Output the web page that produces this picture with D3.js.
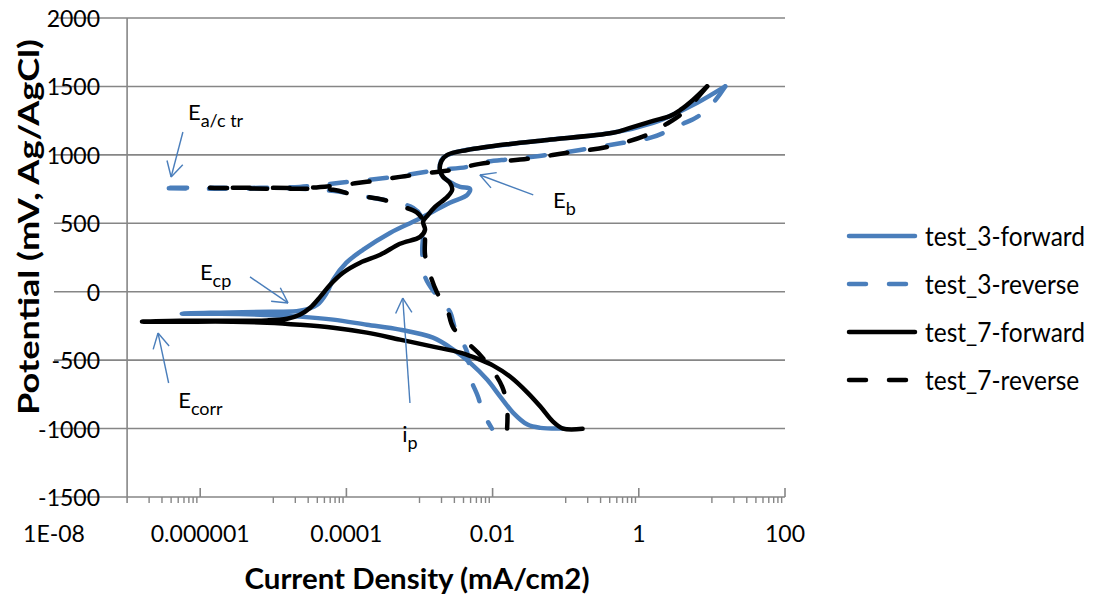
<!DOCTYPE html>
<html>
<head>
<meta charset="utf-8">
<script src="https://cdn.jsdelivr.net/npm/d3@7/dist/d3.min.js"></script>
<style>
  html, body { margin: 0; padding: 0; background: #fff; }
  svg { display: block; font-family: Lato, "Noto Sans", sans-serif; }
</style>
</head>
<body>
<svg id="chart" width="1094" height="595"></svg>
<script>
// Potentiodynamic polarisation scans: [potential mV, current density mA/cm2]
const test3Forward = [
  [-1000, 0.092], [-995, 0.045], [-971, 0.030], [-883, 0.019], [-766, 0.0127],
  [-642, 0.0084], [-518, 0.0049], [-423, 0.0029], [-336, 0.00153], [-277, 5.4e-4],
  [-241, 1.9e-4], [-204, 6.6e-5], [-182, 2.3e-5], [-168, 6.6e-6], [-161, 1.9e-6],
  [-160, 5.6e-7], [-153, 1.9e-6], [-146, 9.1e-6], [-139, 2.3e-5], [-95, 4.0e-5],
  [-7, 5.4e-5], [88, 6.6e-5], [212, 1.0e-4], [307, 1.7e-4], [431, 4.0e-4],
  [526, 9.3e-4], [650, 2.6e-3], [708, 4.5e-3], [752, 4.9e-3], [766, 3.6e-3],
  [803, 2.6e-3], [854, 2.0e-3], [927, 1.9e-3], [978, 2.1e-3], [1015, 2.9e-3],
  [1051, 6.8e-3], [1109, 0.056], [1161, 0.44], [1234, 1.57], [1292, 2.9],
  [1380, 6.3], [1500, 15.2]
];
const test3Reverse = [
  [1500, 15.2], [1380, 10.4], [1277, 6.3], [1219, 3.7], [1131, 1.57],
  [1088, 0.61], [1036, 0.157], [1000, 0.056], [971, 0.019], [942, 6.7e-3],
  [912, 4.5e-3], [891, 1.9e-3], [869, 1.02e-3], [839, 4.4e-4], [796, 8.2e-5],
  [766, 2.3e-5], [759, 6.6e-6], [759, 1.36e-6], [759, 2.65e-7], [752, 1.36e-6],
  [752, 2.3e-5], [730, 8.2e-5], [693, 1.9e-4], [657, 4.4e-4], [613, 8.2e-4],
  [562, 1.02e-3], [431, 1.12e-3], [307, 1.09e-3], [109, 1.19e-3], [-58, 1.9e-3],
  [-146, 2.6e-3], [-277, 3.1e-3], [-445, 4.5e-3], [-620, 4.9e-3], [-766, 6.3e-3],
  [-883, 7.4e-3], [-1000, 9.8e-3]
];
const test7Forward = [
  [-1002, 0.17], [-1000, 0.092], [-949, 0.067], [-839, 0.045], [-737, 0.030],
  [-620, 0.0173], [-540, 0.0102], [-496, 6.7e-3], [-445, 3.6e-3], [-401, 1.53e-3],
  [-350, 5.4e-4], [-299, 1.9e-4], [-263, 6.6e-5], [-241, 2.3e-5], [-226, 8.2e-6],
  [-219, 2.8e-6], [-219, 5.3e-7], [-219, 1.6e-7], [-212, 5.3e-7], [-212, 2.8e-6],
  [-210, 8.2e-6], [-197, 1.55e-5], [-168, 2.3e-5], [-117, 3.2e-5], [-36, 4.4e-5],
  [51, 6.0e-5], [139, 9.0e-5], [212, 1.54e-4], [270, 2.9e-4], [350, 5.4e-4],
  [401, 1.02e-3], [453, 1.19e-3], [511, 1.12e-3], [562, 1.31e-3], [620, 1.63e-3],
  [693, 2.4e-3], [745, 2.8e-3], [796, 2.6e-3], [839, 2.1e-3], [891, 1.9e-3],
  [956, 2.0e-3], [1000, 2.4e-3], [1036, 4.5e-3], [1080, 0.0173], [1109, 0.056],
  [1161, 0.44], [1197, 0.76], [1248, 1.57], [1285, 2.7], [1328, 3.7],
  [1401, 5.5], [1500, 8.6]
];
const test7Reverse = [
  [1500, 8.6], [1380, 5.5], [1292, 3.7], [1226, 2.4], [1146, 1.3],
  [1058, 0.37], [1015, 0.104], [971, 0.030], [934, 6.7e-3], [891, 2.9e-3],
  [869, 1.4e-3], [839, 5.4e-4], [803, 1.9e-4], [774, 6.6e-5], [759, 2.9e-5],
  [759, 8.2e-6], [760, 1.36e-6], [752, 8.2e-6], [745, 6.6e-5], [708, 1.24e-4],
  [672, 3.2e-4], [628, 5.4e-4], [577, 9.3e-4], [489, 1.19e-3], [380, 1.19e-3],
  [270, 1.19e-3], [124, 1.4e-3], [-7, 1.74e-3], [-131, 2.4e-3], [-263, 2.9e-3],
  [-460, 6.7e-3], [-569, 9.8e-3], [-693, 0.0135], [-839, 0.0158], [-1000, 0.0158]
];

const seriesNames = ["test_3-forward", "test_3-reverse", "test_7-forward", "test_7-reverse"];
const seriesColors = ["#4a7ebb", "#4a7ebb", "#000000", "#000000"];
const seriesDashed = [false, true, false, true];

const yTicks = [-1500, -1000, -500, 0, 500, 1000, 1500, 2000];
const xTickValues = [1e-8, 1e-6, 1e-4, 1e-2, 1, 100];
const xTickLabels = ["1E-08", "0.000001", "0.0001", "0.01", "1", "100"];

// Labelled features: text anchor and arrow tail/head as [current, potential]
const notes = [
  { main: "E", sub: "a/c tr", at: [6.8e-7, 1255], from: [5.8e-7, 1167], to: [4.0e-7, 838] },
  { main: "E", sub: "b",      at: [0.067, 612],   from: [0.036, 707],   to: [6.7e-3, 853] },
  { main: "E", sub: "cp",     at: [9.9e-7, 86],   from: [4.8e-6, 108],  to: [1.59e-5, -82] },
  { main: "E", sub: "corr",   at: [5.0e-7, -850], from: [3.7e-7, -667], to: [2.65e-7, -302] },
  { main: "i", sub: "p",      at: [5.8e-4, -1098],from: [7.4e-4, -813], to: [5.9e-4, -46] }
];

const svg = d3.select("#chart");
const x = d3.scaleLog().domain([1e-8, 100]).range([54, 785]);
const y = d3.scaleLinear().domain([-1500, 2000]).range([497, 18]);
const gridColor = "#868686";

// stretch a text element horizontally to a given width
function fitWidth(sel, width) {
  sel.attr("textLength", width).attr("lengthAdjust", "spacingAndGlyphs");
}

// horizontal gridlines (the lowest one doubles as the category axis)
svg.append("g").selectAll("line").data(yTicks).join("line")
  .attr("x1", x(1e-8)).attr("x2", x(100))
  .attr("y1", d => y(d)).attr("y2", d => y(d))
  .attr("stroke", gridColor).attr("stroke-width", 1.6);

// value axis, crossing at 1E-07
svg.append("line")
  .attr("x1", x(1e-7)).attr("x2", x(1e-7))
  .attr("y1", y(2000)).attr("y2", y(-1500) + 6)
  .attr("stroke", gridColor).attr("stroke-width", 1.6);

// major ticks (every two decades) point up, minor ticks point down
const majorTicks = xTickValues.slice(1);
svg.append("g").selectAll("line").data(majorTicks).join("line")
  .attr("x1", d => x(d)).attr("x2", d => x(d))
  .attr("y1", y(-1500) - 9).attr("y2", y(-1500))
  .attr("stroke", gridColor).attr("stroke-width", 1.6);

const minorTicks = [];
[-7, -5, -3, -1, 1].forEach(e => {
  for (let k = 2; k <= 9; k++) minorTicks.push(k * Math.pow(10, e));
});
[1e-5, 1e-3, 1e-1, 10].forEach(v => minorTicks.push(v));
svg.append("g").selectAll("line").data(minorTicks).join("line")
  .attr("x1", d => x(d)).attr("x2", d => x(d))
  .attr("y1", y(-1500)).attr("y2", y(-1500) + 6)
  .attr("stroke", gridColor).attr("stroke-width", 1.4);

// tick labels
svg.append("g").selectAll("text").data(yTicks).join("text")
  .attr("x", 100).attr("y", d => y(d))
  .attr("text-anchor", "end").attr("dominant-baseline", "central")
  .attr("font-size", 23).attr("fill", "#000")
  .text(d => d);

svg.append("g").selectAll("text").data(xTickValues).join("text")
  .attr("x", d => x(d)).attr("y", 533)
  .attr("text-anchor", "middle").attr("dominant-baseline", "central")
  .attr("font-size", 23).attr("fill", "#000")
  .text((d, i) => xTickLabels[i]);

// axis titles
const yTitle = svg.append("text")
  .attr("transform", `translate(27,415) rotate(-90)`)
  .attr("text-anchor", "start").attr("dominant-baseline", "central")
  .attr("font-size", 29).attr("font-weight", "bold")
  .text("Potential (mV, Ag/AgCl)");
fitWidth(yTitle, 376);

const xTitle = svg.append("text")
  .attr("x", 417).attr("y", 577)
  .attr("text-anchor", "middle").attr("dominant-baseline", "central")
  .attr("font-size", 29).attr("font-weight", "bold")
  .text("Current Density (mA/cm2)");
fitWidth(xTitle, 345);

// scan curves
const line = d3.line()
  .curve(d3.curveCatmullRom.alpha(0.5))
  .x(d => x(d[1])).y(d => y(d[0]));
const allSeries = [test3Forward, test3Reverse, test7Forward, test7Reverse];
const curves = svg.append("g").attr("fill", "none")
  .attr("stroke-linecap", "round").attr("stroke-linejoin", "round");
allSeries.forEach((data, i) => {
  curves.append("path")
    .attr("d", line(data))
    .attr("stroke", seriesColors[i])
    .attr("stroke-width", 4.5)
    .attr("stroke-dasharray", seriesDashed[i] ? "17,23" : null);
});

// annotations
const arrowColor = "#4a7ebb";
const ann = svg.append("g");
notes.forEach(n => {
  const x0 = x(n.from[0]), y0 = y(n.from[1]);
  const x1 = x(n.to[0]), y1 = y(n.to[1]);
  ann.append("line")
    .attr("x1", x0).attr("y1", y0).attr("x2", x1).attr("y2", y1)
    .attr("stroke", arrowColor).attr("stroke-width", 1.4);
  const ang = Math.atan2(y0 - y1, x0 - x1);
  const len = 17, spread = 0.5;
  [ang - spread, ang + spread].forEach(a => {
    ann.append("line")
      .attr("x1", x1).attr("y1", y1)
      .attr("x2", x1 + len * Math.cos(a)).attr("y2", y1 + len * Math.sin(a))
      .attr("stroke", arrowColor).attr("stroke-width", 1.4);
  });
  const t = ann.append("text")
    .attr("x", x(n.at[0])).attr("y", y(n.at[1]))
    .attr("font-size", 22).attr("fill", "#000");
  t.append("tspan").text(n.main);
  t.append("tspan").attr("dy", 7).attr("font-size", 18).text(n.sub);
});

// legend
const legend = svg.append("g");
const legendTexts = [];
seriesNames.forEach((name, i) => {
  const ly = 236 + i * 48;
  legend.append("line")
    .attr("x1", 849).attr("x2", 915).attr("y1", ly).attr("y2", ly)
    .attr("stroke", seriesColors[i]).attr("stroke-width", 4.5)
    .attr("stroke-linecap", "round")
    .attr("stroke-dasharray", seriesDashed[i] ? "17,23" : null);
  legendTexts.push(legend.append("text")
    .attr("x", 925).attr("y", ly)
    .attr("dominant-baseline", "central")
    .attr("font-size", 26).attr("fill", "#000")
    .text(name));
});
// widen legend labels by a common factor so the first one spans 160px
const legendStretch = 160 / legendTexts[0].node().getComputedTextLength();
legendTexts.forEach(t => fitWidth(t, t.node().getComputedTextLength() * legendStretch));
</script>
</body>
</html>
